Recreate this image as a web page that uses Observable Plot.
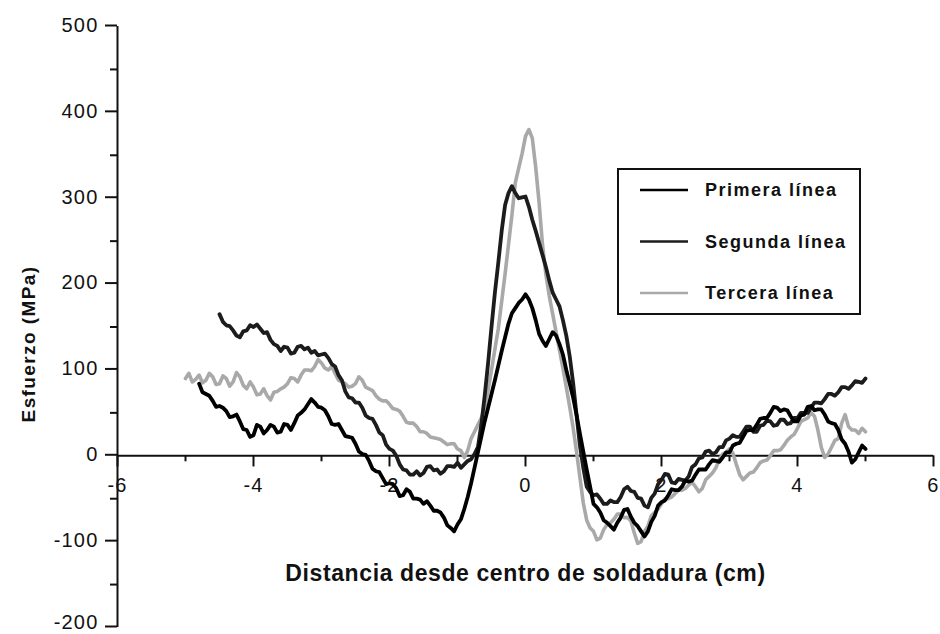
<!DOCTYPE html>
<html>
<head>
<meta charset="utf-8">
<script src="https://cdn.jsdelivr.net/npm/d3@7"></script>
<script src="https://cdn.jsdelivr.net/npm/@observablehq/plot@0.6"></script>
<style>
  body { margin: 0; background: #fff; }
  #chart { width: 940px; height: 634px; }
</style>
</head>
<body>
<div id="chart"></div>
<script>
// Distance from the weld centre (cm), sampled every 0.05 cm
const distancia = [
  -5.00, -4.95, -4.90, -4.85, -4.80, -4.75, -4.70, -4.65, -4.60, -4.55,
  -4.50, -4.45, -4.40, -4.35, -4.30, -4.25, -4.20, -4.15, -4.10, -4.05,
  -4.00, -3.95, -3.90, -3.85, -3.80, -3.75, -3.70, -3.65, -3.60, -3.55,
  -3.50, -3.45, -3.40, -3.35, -3.30, -3.25, -3.20, -3.15, -3.10, -3.05,
  -3.00, -2.95, -2.90, -2.85, -2.80, -2.75, -2.70, -2.65, -2.60, -2.55,
  -2.50, -2.45, -2.40, -2.35, -2.30, -2.25, -2.20, -2.15, -2.10, -2.05,
  -2.00, -1.95, -1.90, -1.85, -1.80, -1.75, -1.70, -1.65, -1.60, -1.55,
  -1.50, -1.45, -1.40, -1.35, -1.30, -1.25, -1.20, -1.15, -1.10, -1.05,
  -1.00, -0.95, -0.90, -0.85, -0.80, -0.75, -0.70, -0.65, -0.60, -0.55,
  -0.50, -0.45, -0.40, -0.35, -0.30, -0.25, -0.20, -0.15, -0.10, -0.05,
  0.00, 0.05, 0.10, 0.15, 0.20, 0.25, 0.30, 0.35, 0.40, 0.45,
  0.50, 0.55, 0.60, 0.65, 0.70, 0.75, 0.80, 0.85, 0.90, 0.95,
  1.00, 1.05, 1.10, 1.15, 1.20, 1.25, 1.30, 1.35, 1.40, 1.45,
  1.50, 1.55, 1.60, 1.65, 1.70, 1.75, 1.80, 1.85, 1.90, 1.95,
  2.00, 2.05, 2.10, 2.15, 2.20, 2.25, 2.30, 2.35, 2.40, 2.45,
  2.50, 2.55, 2.60, 2.65, 2.70, 2.75, 2.80, 2.85, 2.90, 2.95,
  3.00, 3.05, 3.10, 3.15, 3.20, 3.25, 3.30, 3.35, 3.40, 3.45,
  3.50, 3.55, 3.60, 3.65, 3.70, 3.75, 3.80, 3.85, 3.90, 3.95,
  4.00, 4.05, 4.10, 4.15, 4.20, 4.25, 4.30, 4.35, 4.40, 4.45,
  4.50, 4.55, 4.60, 4.65, 4.70, 4.75, 4.80, 4.85, 4.90, 4.95,
  5.00
];

// Residual stress (MPa) along each measuring line (null = not measured)
const primera = [
  null, null, null, null, 84, 74, 72, 70, 64, 57,
  58, 56, 52, 45, 46, 48, 40, 31, 30, 22,
  24, 36, 34, 26, 30, 36, 34, 27, 28, 37,
  36, 30, 38, 47, 50, 54, 60, 66, 62, 57,
  56, 53, 46, 37, 36, 37, 30, 23, 22, 21,
  14, 5, 2, 1, -6, -15, -18, -19, -26, -33,
  -32, -33, -38, -47, -46, -39, -42, -50, -50, -51,
  -56, -53, -58, -64, -64, -66, -72, -81, -84, -88,
  -80, -74, -62, -48, -32, -14, 4, 22, 40, 56,
  72, 88, 105, 122, 138, 154, 166, 172, 178, 182,
  188, 182, 172, 158, 142, 134, 128, 136, 144, 140,
  130, 118, 100, 84, 68, 48, 26, 5, -16, -36,
  -56, -60, -66, -75, -78, -82, -86, -78, -72, -63,
  -62, -71, -78, -82, -88, -94, -88, -77, -70, -58,
  -54, -52, -46, -39, -40, -40, -36, -29, -30, -29,
  -22, -16, -16, -16, -10, -5, -6, -7, -2, 4,
  4, 12, 14, 15, 22, 29, 30, 30, 36, 43,
  44, 44, 50, 57, 56, 52, 54, 53, 46, 40,
  40, 47, 48, 57, 58, 53, 54, 54, 48, 40,
  38, 37, 30, 19, 14, 5, -8, -4, 4, 12,
  8
];

const segunda = [
  null, null, null, null, null, null, null, null, null, null,
  165, 156, 152, 151, 146, 140, 138, 145, 146, 152,
  150, 153, 148, 143, 144, 135, 130, 128, 122, 127,
  126, 119, 120, 127, 128, 124, 126, 120, 122, 117,
  118, 119, 114, 107, 104, 94, 88, 75, 68, 67,
  62, 62, 56, 47, 44, 43, 36, 27, 24, 13,
  8, 6, 0, -10, -16, -17, -22, -22, -18, -23,
  -20, -13, -12, -17, -16, -21, -18, -12, -12, -13,
  -8, -14, -10, -6, -4, 2, 10, 36, 70, 108,
  150, 190, 225, 262, 292, 306, 314, 306, 300, 301,
  302, 290, 275, 262, 248, 234, 220, 204, 190, 182,
  174, 158, 140, 116, 85, 48, 12, -14, -36, -42,
  -46, -45, -50, -56, -56, -52, -54, -54, -48, -39,
  -36, -41, -42, -49, -50, -58, -60, -49, -44, -33,
  -28, -21, -22, -31, -32, -27, -28, -29, -24, -13,
  -10, -3, -2, 5, 6, 2, 4, 10, 10, 18,
  20, 24, 22, 22, 28, 34, 34, 28, 28, 35,
  36, 41, 40, 35, 36, 42, 42, 37, 38, 44,
  44, 50, 50, 50, 56, 62, 62, 61, 66, 72,
  72, 70, 74, 80, 80, 78, 82, 87, 86, 85,
  90
];

const tercera = [
  90, 96, 86, 89, 94, 85, 88, 96, 92, 83,
  84, 93, 90, 81, 86, 97, 92, 82, 78, 86,
  80, 71, 72, 78, 70, 65, 74, 75, 78, 80,
  84, 91, 90, 86, 94, 100, 100, 99, 104, 112,
  108, 102, 100, 104, 96, 88, 86, 84, 80, 81,
  84, 92, 88, 80, 78, 76, 70, 66, 64, 64,
  60, 55, 54, 52, 46, 39, 38, 38, 34, 28,
  28, 26, 22, 21, 20, 19, 16, 13, 14, 14,
  8, 6, -2, 6, 20, 28, 36, 44, 56, 76,
  100, 124, 148, 180, 212, 246, 280, 318, 335, 352,
  372, 380, 370, 336, 295, 246, 211, 186, 165, 144,
  123, 102, 80, 57, 33, 5, -25, -55, -75, -84,
  -88, -98, -96, -86, -80, -78, -74, -68, -68, -72,
  -72, -76, -90, -102, -100, -88, -82, -70, -66, -62,
  -56, -50, -50, -48, -44, -40, -40, -38, -34, -31,
  -36, -42, -38, -28, -24, -20, -14, -4, 2, 4,
  8, 3, -10, -22, -28, -24, -20, -19, -14, -8,
  -6, -5, 0, 6, 6, 7, 12, 18, 22, 25,
  32, 40, 42, 44, 50, 46, 30, 10, -2, 2,
  10, 18, 20, 38, 48, 34, 30, 30, 26, 32,
  28
];

const seriesNames = ["Primera línea", "Segunda línea", "Tercera línea"];
const seriesColors = ["#000000", "#1c1c1c", "#a9a9a9"];

const xMajorTicks = [-6, -4, -2, 0, 2, 4, 6];
const xMinorTicks = [-5, -3, -1, 1, 3, 5];
const yMajorTicks = [-200, -100, 0, 100, 200, 300, 400, 500];
const yMinorTicks = [-150, -50, 50, 150, 250, 350, 450];

const xTitle = "Distancia desde centro de soldadura (cm)";
const yTitle = "Esfuerzo (MPa)";

const rows = distancia.map((x, i) => ({
  x, primera: primera[i], segunda: segunda[i], tercera: tercera[i]
}));

const ink = "#111";
const font = "'Liberation Sans', Arial, Helvetica, sans-serif";

const chart = Plot.plot({
  width: 940,
  height: 634,
  marginTop: 26,
  marginRight: 7,
  marginBottom: 7,
  marginLeft: 117,
  style: { fontFamily: font, fontSize: "20px", color: ink, background: "#fff", overflow: "visible" },
  x: { domain: [xMajorTicks[0], xMajorTicks[xMajorTicks.length - 1]], axis: null },
  y: { domain: [yMajorTicks[0], yMajorTicks[yMajorTicks.length - 1]] },
  marks: [
    // y axis: spine, minor and major ticks
    Plot.ruleX([xMajorTicks[0]], { stroke: ink, strokeWidth: 2 }),
    Plot.axisY(yMinorTicks, { tickSize: 7, strokeWidth: 2, stroke: ink, tickFormat: () => "", label: null }),
    Plot.axisY(yMajorTicks, { tickSize: 12, tickPadding: 7, strokeWidth: 2, stroke: ink, fill: ink,
      tickFormat: d => String(d), label: null, fontSize: 20, dy: -1 }),
    // x axis drawn through zero stress
    Plot.ruleY([0], { stroke: ink, strokeWidth: 2 }),
    Plot.ruleX(xMajorTicks, { y1: 0, y2: -13, stroke: ink, strokeWidth: 2 }),
    Plot.ruleX(xMinorTicks, { y1: 0, y2: -7, stroke: ink, strokeWidth: 2 }),
    Plot.text(xMajorTicks, { x: d => d, y: 0, dy: 30, text: d => String(d), fill: ink, fontSize: 20 }),
    // x axis title
    Plot.text([xTitle], { frameAnchor: "bottom", dy: -47, fontWeight: "bold", fontSize: 23, fill: ink }),
    // stress profiles
    Plot.line(rows, { x: "x", y: "tercera", stroke: seriesColors[2], strokeWidth: 3.6, strokeLinejoin: "round" }),
    Plot.line(rows, { x: "x", y: "segunda", stroke: seriesColors[1], strokeWidth: 3.8, strokeLinejoin: "round" }),
    Plot.line(rows, { x: "x", y: "primera", stroke: seriesColors[0], strokeWidth: 3.8, strokeLinejoin: "round" })
  ]
});

document.getElementById("chart").appendChild(chart);

const svg = d3.select(chart);
const tickStrings = new Set([...xMajorTicks, ...yMajorTicks].map(String));
svg.selectAll("text")
  .filter(function () { return tickStrings.has(this.textContent); })
  .style("letter-spacing", "1.2px");
svg.selectAll("text")
  .filter(function () { return this.textContent === xTitle; })
  .style("letter-spacing", "0.6px");
// lift the lowest y label so it stays inside the bottom edge
svg.selectAll("text")
  .filter(function () { return this.textContent === String(yMajorTicks[0]); })
  .attr("dy", "-0.2em");

// y axis title, rotated along the left edge
svg.append("text")
  .attr("transform", "translate(28,344) rotate(-90)")
  .attr("text-anchor", "middle").attr("dy", "0.35em")
  .attr("fill", ink).attr("font-weight", "bold").attr("font-size", 19)
  .attr("font-family", font).style("letter-spacing", "1.4px")
  .text(yTitle);

// Legend box inside the plotting area
const legend = svg.append("g").attr("class", "legend");
legend.append("rect")
  .attr("x", 618).attr("y", 169).attr("width", 242).attr("height", 145)
  .attr("fill", "#fff").attr("stroke", ink).attr("stroke-width", 2);
seriesNames.forEach((name, i) => {
  const cy = 190 + i * 51.5;
  legend.append("line")
    .attr("x1", 640).attr("x2", 688).attr("y1", cy).attr("y2", cy)
    .attr("stroke", seriesColors[i]).attr("stroke-width", 2.6);
  legend.append("text")
    .attr("x", 705).attr("y", cy).attr("dy", "0.35em")
    .attr("text-anchor", "start")
    .attr("fill", ink).attr("font-weight", "bold").attr("font-size", 18)
    .attr("font-family", font).style("letter-spacing", "1.5px")
    .text(name);
});
</script>
</body>
</html>
